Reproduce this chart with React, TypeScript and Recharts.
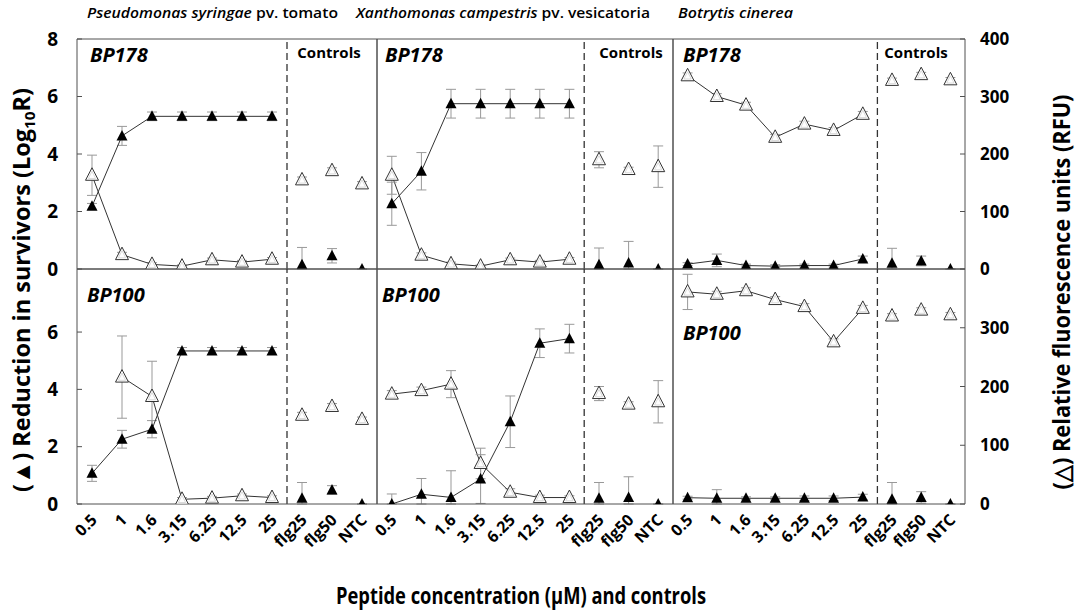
import React from "react";
import { ComposedChart, Line, XAxis, YAxis, ErrorBar, ReferenceLine } from "recharts";

const FONT = "'Open Sans', 'Noto Sans', sans-serif";

const concLabels = ["0.5", "1", "1.6", "3.15", "6.25", "12.5", "25", "flg25", "flg50", "NTC"];
const nConc = 7; // first 7 are peptide concentrations, the rest are controls

// Pseudomonas syringae pv. tomato
const pstKill178 = [2.18, 4.63, 5.31, 5.31, 5.31, 5.31, 5.31, 0.15, 0.46, 0];
const pstKill178Err = [0.1, 0.33, 0.15, 0.15, 0.15, 0.15, 0.15, 0.6, 0.25, 0];
const pstRfu178 = [163, 25, 8, 5, 16, 12, 17, 155, 171, 148];
const pstRfu178Err = [35, 4, 3, 2, 3, 3, 3, 5, 5, 4];
const pstKill100 = [1.07, 2.26, 2.61, 5.34, 5.34, 5.34, 5.34, 0.2, 0.49, 0];
const pstKill100Err = [0.28, 0.31, 0.3, 0.12, 0.12, 0.12, 0.12, 0.55, 0.15, 0];
const pstRfu100 = [null, 216, 183, 8, 10, 14, 11, 151, 166, 144];
const pstRfu100Err = [null, 70, 60, 3, 3, 3, 3, 5, 5, 4];

// Xanthomonas campestris pv. vesicatoria
const xcvKill178 = [2.27, 3.4, 5.75, 5.75, 5.75, 5.75, 5.75, 0.15, 0.21, 0];
const xcvKill178Err = [0.75, 0.65, 0.5, 0.5, 0.5, 0.5, 0.5, 0.58, 0.75, 0];
const xcvRfu178 = [163, 24, 9, 5, 16, 12, 17, 190, 173, 178];
const xcvRfu178Err = [33, 4, 3, 2, 3, 3, 3, 14, 4, 36];
const xcvKill100 = [0, 0.34, 0.23, 0.87, 2.87, 5.61, 5.77, 0.2, 0.23, 0];
const xcvKill100Err = [0.35, 0.55, 0.93, 0.85, 0.9, 0.5, 0.5, 0.55, 0.72, 0];
const xcvRfu100 = [187, 193, 204, 69, 20, 11, 11, 188, 170, 174];
const xcvRfu100Err = [6, 6, 23, 26, 6, 4, 3, 12, 4, 36];

// Botrytis cinerea
const bcKill178 = [0.17, 0.3, 0.12, 0.1, 0.12, 0.12, 0.35, 0.2, 0.28, 0];
const bcKill178Err = [0.05, 0.22, 0.05, 0.05, 0.05, 0.05, 0.1, 0.52, 0.17, 0];
const bcRfu178 = [336, 300, 285, 229, 252, 241, 269, 328, 338, 329];
const bcRfu178Err = [5, 5, 5, 5, 5, 5, 5, 4, 4, 4];
const bcKill100 = [0.22, 0.2, 0.2, 0.2, 0.2, 0.2, 0.24, 0.17, 0.23, 0];
const bcKill100Err = [0.05, 0.3, 0.05, 0.05, 0.08, 0.08, 0.1, 0.58, 0.2, 0];
const bcRfu100 = [361, 357, 363, 348, 336, 276, 333, 320, 330, 322];
const bcRfu100Err = [30, 5, 5, 5, 5, 5, 5, 4, 4, 4];

const leftTicksTop = [0, 2, 4, 6, 8];
const leftTicksBottom = [0, 2, 4, 6];
const rightTicksTop = [0, 100, 200, 300, 400];
const rightTicksBottom = [0, 100, 200, 300];

// plot-area geometry
const cols = [
  { x: 77, w: 300 },
  { x: 377, w: 296 },
  { x: 673, w: 292 },
];
const rows = [
  { y: 39, h: 230, leftMax: 8, leftTicks: leftTicksTop, rightTicks: rightTicksTop },
  { y: 269, h: 235, leftMax: 8.2, leftTicks: leftTicksBottom, rightTicks: rightTicksBottom },
];

const LW = 40;
const RW = 50;
const MT = 12;
const MB = 14;
const AXIS_GREY = "#505050";

// error bars stop at zero, as in the original
const errPair = (v: number | null, e: number | null) =>
  v == null || e == null ? null : [Math.min(e, v), e];

function buildRows(kill: (number | null)[], killErr: (number | null)[], rfu: (number | null)[], rfuErr: (number | null)[]) {
  return concLabels.map((label, i) => {
    const isConc = i < nConc;
    return {
      x: i + 0.5,
      label,
      kill: isConc ? kill[i] : null,
      killErr: isConc ? errPair(kill[i], killErr[i]) : null,
      killC: isConc ? null : kill[i],
      killCErr: isConc ? null : errPair(kill[i], killErr[i]),
      rfu: isConc ? rfu[i] : null,
      rfuErr: isConc ? errPair(rfu[i], rfuErr[i]) : null,
      rfuC: isConc ? null : rfu[i],
      rfuCErr: isConc ? null : errPair(rfu[i], rfuErr[i]),
    };
  });
}

const panels = [
  { row: 0, col: 0, data: buildRows(pstKill178, pstKill178Err, pstRfu178, pstRfu178Err) },
  { row: 0, col: 1, data: buildRows(xcvKill178, xcvKill178Err, xcvRfu178, xcvRfu178Err) },
  { row: 0, col: 2, data: buildRows(bcKill178, bcKill178Err, bcRfu178, bcRfu178Err) },
  { row: 1, col: 0, data: buildRows(pstKill100, pstKill100Err, pstRfu100, pstRfu100Err) },
  { row: 1, col: 1, data: buildRows(xcvKill100, xcvKill100Err, xcvRfu100, xcvRfu100Err) },
  { row: 1, col: 2, data: buildRows(bcKill100, bcKill100Err, bcRfu100, bcRfu100Err) },
];

const catTicks = concLabels.map((_, i) => i + 0.5);
const edgeTicks = [0, 1, 2, 3, 4, 5, 6, 7, 8, 9, 10];

function FilledTri(p: any) {
  const { cx, cy, index } = p;
  if (cx == null || cy == null || Number.isNaN(cy)) return <g key={index} />;
  return (
    <polygon
      key={index}
      points={`${cx},${cy - 6} ${cx - 5.5},${cy + 4.5} ${cx + 5.5},${cy + 4.5}`}
      fill="#000"
    />
  );
}

function OpenTri(p: any) {
  const { cx, cy, index } = p;
  if (cx == null || cy == null || Number.isNaN(cy)) return <g key={index} />;
  return (
    <g key={index}>
      <polygon
        points={`${cx},${cy - 7.5} ${cx - 6.5},${cy + 5} ${cx + 6.5},${cy + 5}`}
        fill="#fff"
        stroke="#333"
        strokeWidth={1}
      />
      <polygon
        points={`${cx},${cy - 4} ${cx - 3.6},${cy + 3.2} ${cx + 3.6},${cy + 3.2}`}
        fill="none"
        stroke="#c4c4c4"
        strokeWidth={0.6}
      />
    </g>
  );
}

function XLabel(p: any) {
  const { x, y, payload } = p;
  const label = concLabels[Math.floor(payload.value)];
  return (
    <text
      transform={`translate(${x + 6},${y + 11}) rotate(-45)`}
      textAnchor="end"
      fontFamily={FONT}
      fontWeight={700}
      fontSize={16}
      fill="#000"
    >
      {label}
    </text>
  );
}

function Panel({ row, col, data }: { row: number; col: number; data: any[] }) {
  const r = rows[row];
  const c = cols[col];
  const isBottom = row === 1;
  const axisH = 6;
  const labH = isBottom ? 60 : 0;
  const mb = isBottom ? 0 : MB;
  const width = LW + c.w + RW;
  const height = MT + r.h + axisH + labH + mb;
  return (
    <div style={{ position: "absolute", left: c.x - LW, top: r.y - MT }}>
      <ComposedChart width={width} height={height} data={data} margin={{ top: MT, right: 0, bottom: mb, left: 0 }}>
        <XAxis
          xAxisId={0}
          type="number"
          dataKey="x"
          domain={[0, 10]}
          ticks={edgeTicks}
          interval={0}
          tick={false}
          tickSize={5}
          height={axisH}
          axisLine={{ stroke: AXIS_GREY }}
          tickLine={{ stroke: AXIS_GREY }}
        />
        {isBottom && (
          <XAxis
            xAxisId="lab"
            type="number"
            dataKey="x"
            domain={[0, 10]}
            ticks={catTicks}
            interval={0}
            tick={<XLabel />}
            tickSize={0}
            tickMargin={0}
            tickLine={false}
            axisLine={false}
            height={labH}
          />
        )}
        <YAxis
          yAxisId="left"
          orientation="left"
          domain={[0, r.leftMax]}
          ticks={r.leftTicks}
          interval={0}
          width={LW}
          tickSize={-5}
          tickMargin={24}
          tick={col === 0 ? { fontFamily: FONT, fontWeight: 700, fontSize: 19, fill: "#000" } : false}
          axisLine={{ stroke: AXIS_GREY }}
          tickLine={{ stroke: AXIS_GREY }}
          allowDataOverflow
        />
        <YAxis
          yAxisId="right"
          orientation="right"
          domain={[0, 400]}
          ticks={r.rightTicks}
          interval={0}
          width={RW}
          tickSize={-5}
          tickMargin={20}
          tick={col === 2 ? { fontFamily: FONT, fontWeight: 700, fontSize: 17, fill: "#000" } : false}
          axisLine={{ stroke: AXIS_GREY }}
          tickLine={{ stroke: AXIS_GREY }}
          allowDataOverflow
        />
        <ReferenceLine yAxisId="left" y={r.leftMax} stroke={AXIS_GREY} strokeWidth={1} />
        <ReferenceLine yAxisId="left" x={nConc} stroke="#333" strokeWidth={1.3} strokeDasharray="7 4" />

        <Line
          yAxisId="right"
          dataKey="rfu"
          stroke="#333"
          strokeWidth={1}
          dot={OpenTri}
          activeDot={false}
          isAnimationActive={false}
        >
          <ErrorBar dataKey="rfuErr" width={5} stroke="#999" strokeWidth={1} />
        </Line>
        <Line
          yAxisId="right"
          dataKey="rfuC"
          stroke="none"
          dot={OpenTri}
          activeDot={false}
          isAnimationActive={false}
        >
          <ErrorBar dataKey="rfuCErr" width={5} stroke="#999" strokeWidth={1} />
        </Line>
        <Line
          yAxisId="left"
          dataKey="kill"
          stroke="#333"
          strokeWidth={1}
          dot={FilledTri}
          activeDot={false}
          isAnimationActive={false}
        >
          <ErrorBar dataKey="killErr" width={5} stroke="#999" strokeWidth={1} />
        </Line>
        <Line
          yAxisId="left"
          dataKey="killC"
          stroke="none"
          dot={FilledTri}
          activeDot={false}
          isAnimationActive={false}
        >
          <ErrorBar dataKey="killCErr" width={5} stroke="#999" strokeWidth={1} />
        </Line>
      </ComposedChart>
    </div>
  );
}

const tagStyle = { fontFamily: FONT, fontWeight: 700, fontStyle: "italic", fontSize: 20, fill: "#000" } as const;
const ctlStyle = { fontFamily: FONT, fontWeight: 700, fontSize: 15, fill: "#000" } as const;
const titleStyle = { fontFamily: FONT, fontWeight: 600, fontSize: 15, fill: "#000" } as const;
const axisTitleStyle = { fontFamily: FONT, fontWeight: 700, fontSize: 23, fill: "#000" } as const;

export default function App() {
  return (
    <div style={{ position: "absolute", left: 0, top: 0, width: 1084, height: 615, background: "#fff", overflow: "hidden" }}>
      {panels.map((p) => (
        <Panel key={`${p.row}-${p.col}`} row={p.row} col={p.col} data={p.data} />
      ))}
      <svg width={1084} height={615} style={{ position: "absolute", left: 0, top: 0, pointerEvents: "none" }}>
        <text x={87} y={18} textLength={251} lengthAdjust="spacingAndGlyphs" {...titleStyle}>
          <tspan fontStyle="italic">Pseudomonas syringae</tspan> pv. tomato
        </text>
        <text x={356} y={18} textLength={294} lengthAdjust="spacingAndGlyphs" {...titleStyle}>
          <tspan fontStyle="italic">Xanthomonas campestris</tspan> pv. vesicatoria
        </text>
        <text x={678} y={18} textLength={115} lengthAdjust="spacingAndGlyphs" {...titleStyle}>
          <tspan fontStyle="italic">Botrytis cinerea</tspan>
        </text>

        <text x={90} y={62} {...tagStyle}>BP178</text>
        <text x={385} y={62} {...tagStyle}>BP178</text>
        <text x={683} y={62} {...tagStyle}>BP178</text>
        <text x={87} y={302} {...tagStyle}>BP100</text>
        <text x={382} y={302} {...tagStyle}>BP100</text>
        <text x={683} y={340} {...tagStyle}>BP100</text>

        <text x={329} y={58} textAnchor="middle" {...ctlStyle}>Controls</text>
        <text x={631} y={58} textAnchor="middle" {...ctlStyle}>Controls</text>
        <text x={916} y={58} textAnchor="middle" {...ctlStyle}>Controls</text>

        <text
          transform="translate(30,290) rotate(-90)"
          textAnchor="middle"
          textLength={404}
          lengthAdjust="spacingAndGlyphs"
          {...axisTitleStyle}
        >
          (▲) Reduction in survivors (Log<tspan fontSize={15} dy={5}>10</tspan>
          <tspan dy={-5}>R)</tspan>
        </text>
        <text
          transform="translate(1070,292) rotate(-90)"
          textAnchor="middle"
          textLength={395}
          lengthAdjust="spacingAndGlyphs"
          {...axisTitleStyle}
        >
          (△) Relative fluorescence units (RFU)
        </text>
        <text
          x={521}
          y={604}
          textAnchor="middle"
          textLength={370}
          lengthAdjust="spacingAndGlyphs"
          {...axisTitleStyle}
        >
          Peptide concentration (µM) and controls
        </text>
      </svg>
    </div>
  );
}
